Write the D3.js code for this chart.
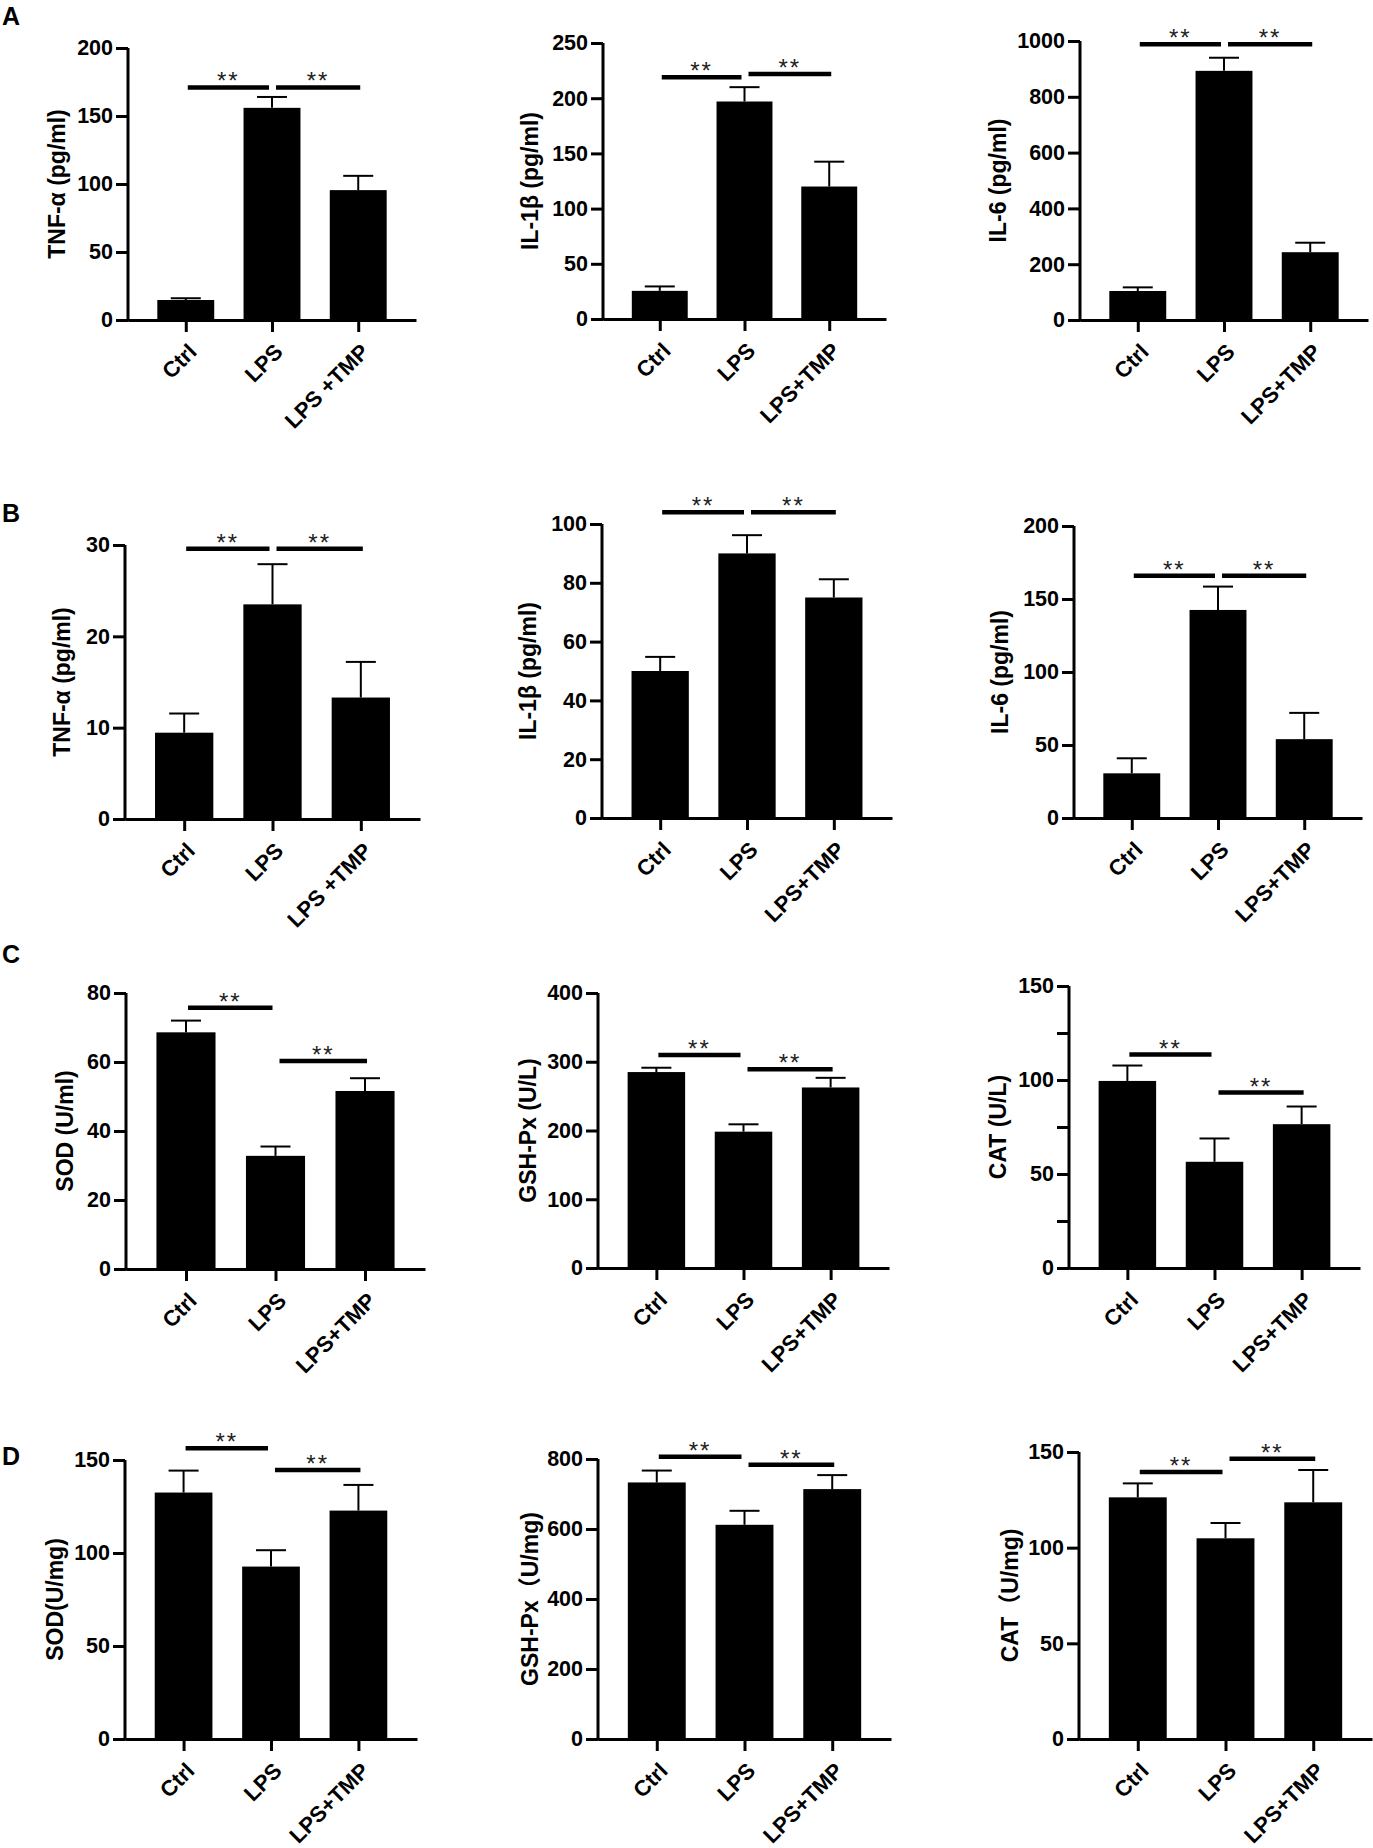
<!DOCTYPE html>
<html>
<head>
<meta charset="utf-8">
<script src="https://cdn.jsdelivr.net/npm/d3@7"></script>
<style>
  body { margin: 0; background: #fff; }
  svg { display: block; font-family: "Liberation Sans", Arial, "Noto Sans CJK SC", sans-serif; }
</style>
</head>
<body>
<svg id="chart" width="1373" height="1848"></svg>
<script>
(function () {
    'use strict';

    // groups on the x axis
    var groups = ["Ctrl", "LPS", "LPS+TMP"];
    var groupsSpaced = ["Ctrl", "LPS", "LPS +TMP"];

    // A: serum cytokines
    var tnfSerumMean = [14.7, 156, 95.5];
    var tnfSerumErr = [1.3, 8, 10.5];
    var il1bSerumMean = [25.5, 197, 120];
    var il1bSerumErr = [4, 13, 22.5];
    var il6SerumMean = [104, 893, 243];
    var il6SerumErr = [13, 47, 34];

    // B: tissue cytokines
    var tnfTissueMean = [9.45, 23.5, 13.3];
    var tnfTissueErr = [2.1, 4.4, 3.9];
    var il1bTissueMean = [50, 90, 75];
    var il1bTissueErr = [4.8, 6.2, 6.2];
    var il6TissueMean = [30.6, 142.5, 54];
    var il6TissueErr = [10.3, 16, 18];

    // C: serum antioxidant enzymes
    var sodSerumMean = [68.6, 32.8, 51.6];
    var sodSerumErr = [3.4, 2.7, 3.7];
    var gshSerumMean = [285, 198.3, 262.6];
    var gshSerumErr = [6.3, 10.7, 14];
    var catSerumMean = [99.5, 56.5, 76.5];
    var catSerumErr = [8.2, 12.4, 9.4];

    // D: tissue antioxidant enzymes
    var sodTissueMean = [132.5, 92.7, 122.8];
    var sodTissueErr = [11.8, 8.8, 13.8];
    var gshTissueMean = [733, 612, 714];
    var gshTissueErr = [34, 40, 40];
    var catTissueMean = [126.3, 104.9, 123.7];
    var catTissueErr = [7.3, 8, 16.9];

    // significance bars: [from, to, height]
    var sigA1 = [[0, 1, 171], [1, 2, 171]];
    var sigA2 = [[0, 1, 219], [1, 2, 222]];
    var sigA3 = [[0, 1, 988], [1, 2, 988]];
    var sigB1 = [[0, 1, 29.6], [1, 2, 29.6]];
    var sigB2 = [[0, 1, 104], [1, 2, 104]];
    var sigB3 = [[0, 1, 166], [1, 2, 166]];
    var sigC1 = [[0, 1, 75.7], [1, 2, 60.3]];
    var sigC2 = [[0, 1, 310], [1, 2, 289]];
    var sigC3 = [[0, 1, 113.5], [1, 2, 93.3]];
    var sigD1 = [[0, 1, 156.3], [1, 2, 144.6]];
    var sigD2 = [[0, 1, 806.7], [1, 2, 783.8]];
    var sigD3 = [[0, 1, 139.5], [1, 2, 146.5]];

    // y axes: [max, tick step, label step]
    var axisA1 = [200, 50, 50];
    var axisA2 = [250, 50, 50];
    var axisA3 = [1000, 200, 200];
    var axisB1 = [30, 10, 10];
    var axisB2 = [100, 20, 20];
    var axisB3 = [200, 50, 50];
    var axisC1 = [80, 20, 20];
    var axisC2 = [400, 100, 100];
    var axisC3 = [150, 25, 50];
    var axisD1 = [150, 50, 50];
    var axisD2 = [800, 200, 200];
    var axisD3 = [150, 50, 50];

    var panels = [
        { title: "TNF-α (pg/ml)", mean: tnfSerumMean, err: tnfSerumErr, sig: sigA1, axis: axisA1, labels: groupsSpaced,
          x0: 128, x1: 416, top: 48, bottom: 320, titleDx: 71 },
        { title: "IL-1β (pg/ml)", mean: il1bSerumMean, err: il1bSerumErr, sig: sigA2, axis: axisA2, labels: groups,
          x0: 603, x1: 886, top: 43, bottom: 319, titleDx: 73 },
        { title: "IL-6 (pg/ml)", mean: il6SerumMean, err: il6SerumErr, sig: sigA3, axis: axisA3, labels: groups,
          x0: 1080, x1: 1368, top: 41, bottom: 320, titleDx: 82 },
        { title: "TNF-α (pg/ml)", mean: tnfTissueMean, err: tnfTissueErr, sig: sigB1, axis: axisB1, labels: groupsSpaced,
          x0: 125, x1: 420, top: 545, bottom: 819, titleDx: 63 },
        { title: "IL-1β (pg/ml)", mean: il1bTissueMean, err: il1bTissueErr, sig: sigB2, axis: axisB2, labels: groups,
          x0: 602, x1: 892, top: 524, bottom: 818, titleDx: 74 },
        { title: "IL-6 (pg/ml)", mean: il6TissueMean, err: il6TissueErr, sig: sigB3, axis: axisB3, labels: groups,
          x0: 1074, x1: 1362, top: 526, bottom: 818, titleDx: 74 },
        { title: "SOD (U/ml)", mean: sodSerumMean, err: sodSerumErr, sig: sigC1, axis: axisC1, labels: groups,
          x0: 126, x1: 425, top: 993, bottom: 1269, titleDx: 61 },
        { title: "GSH-Px (U/L)", mean: gshSerumMean, err: gshSerumErr, sig: sigC2, axis: axisC2, labels: groups,
          x0: 598, x1: 889, top: 993, bottom: 1268, titleDx: 70 },
        { title: "CAT (U/L)", mean: catSerumMean, err: catSerumErr, sig: sigC3, axis: axisC3, labels: groups,
          x0: 1069, x1: 1360, top: 986, bottom: 1268, titleDx: 71 },
        { title: "SOD(U/mg)", mean: sodTissueMean, err: sodTissueErr, sig: sigD1, axis: axisD1, labels: groups,
          x0: 125, x1: 417, top: 1460, bottom: 1739, titleDx: 70 },
        { title: "GSH-Px（U/mg)", mean: gshTissueMean, err: gshTissueErr, sig: sigD2, axis: axisD2, labels: groups,
          x0: 598, x1: 891, top: 1459, bottom: 1739, titleDx: 68 },
        { title: "CAT（U/mg)", mean: catTissueMean, err: catTissueErr, sig: sigD3, axis: axisD3, labels: groups,
          x0: 1079, x1: 1372, top: 1452, bottom: 1739, titleDx: 69 }
    ];

    var letters = [["A", 25], ["B", 522], ["C", 963], ["D", 1465]];

    var svg = d3.select("#chart");

    svg.selectAll("text.letter")
        .data(letters)
        .enter()
        .append("text")
        .attr("class", "letter")
        .attr("x", 2)
        .attr("y", function (d) { return d[1]; })
        .style("font-size", "25px")
        .style("font-weight", "bold")
        .text(function (d) { return d[0]; });

    panels.forEach(function (p) {
        var g = svg.append("g");

        var x = d3.scalePoint().domain(groups).range([p.x0, p.x1]).padding(0.67);
        var y = d3.scaleLinear().domain([0, p.axis[0]]).range([p.bottom, p.top]);
        var step = x.step();
        var bw = step * 0.66;

        // bars
        g.selectAll("rect")
            .data(p.mean)
            .enter()
            .append("rect")
            .attr("x", function (d, i) { return x(groups[i]) - bw / 2; })
            .attr("y", function (d) { return y(d); })
            .attr("width", bw)
            .attr("height", function (d) { return y(0) - y(d); })
            .style("fill", "#000");

        // error bars (upper half only)
        var eb = g.selectAll("g.err")
            .data(p.mean)
            .enter()
            .append("g")
            .attr("class", "err");
        eb.append("line")
            .attr("x1", function (d, i) { return x(groups[i]); })
            .attr("x2", function (d, i) { return x(groups[i]); })
            .attr("y1", function (d) { return y(d); })
            .attr("y2", function (d, i) { return y(d + p.err[i]); })
            .style("stroke", "#000")
            .style("stroke-width", "2px");
        eb.append("line")
            .attr("x1", function (d, i) { return x(groups[i]) - 15; })
            .attr("x2", function (d, i) { return x(groups[i]) + 15; })
            .attr("y1", function (d, i) { return y(d + p.err[i]); })
            .attr("y2", function (d, i) { return y(d + p.err[i]); })
            .style("stroke", "#000")
            .style("stroke-width", "2px");

        // y axis
        var ticks = d3.range(0, p.axis[0] + p.axis[1] / 2, p.axis[1]);
        var yAxis = d3.axisLeft(y)
            .tickValues(ticks)
            .tickSize(12)
            .tickSizeOuter(0)
            .tickPadding(3)
            .tickFormat(function (d) { return d % p.axis[2] === 0 ? d : ""; });
        var ya = g.append("g")
            .attr("transform", "translate(" + p.x0 + ",0)")
            .call(yAxis);

        // x axis
        var xAxis = d3.axisBottom(x)
            .tickSize(12)
            .tickSizeOuter(0)
            .tickFormat("");
        var xa = g.append("g")
            .attr("transform", "translate(0," + p.bottom + ")")
            .call(xAxis);

        [ya, xa].forEach(function (a) {
            a.select(".domain").style("stroke", "#000").style("stroke-width", "3px");
            a.selectAll(".tick line").style("stroke", "#000").style("stroke-width", "3px");
        });
        ya.select(".domain").attr("d", "M0," + (p.bottom + 1.5) + "V" + p.top);
        ya.selectAll(".tick text")
            .style("font-size", "21.5px")
            .style("font-weight", "bold")
            .style("font-family", "'Liberation Sans', Arial, sans-serif")
            .style("fill", "#000");

        // rotated group labels
        g.selectAll("text.grp")
            .data(p.labels)
            .enter()
            .append("text")
            .attr("class", "grp")
            .attr("transform", function (d, i) {
                return "translate(" + (x(groups[i]) + 1) + "," + (p.bottom + 22) + ") rotate(-45)";
            })
            .attr("dy", "0.72em")
            .attr("text-anchor", "end")
            .style("font-size", "22px")
            .style("font-weight", "bold")
            .text(function (d) { return d; });

        // y title
        g.append("text")
            .attr("transform", "translate(" + (p.x0 - p.titleDx) + "," + ((p.top + p.bottom) / 2) + ") rotate(-90)")
            .attr("text-anchor", "middle")
            .attr("dy", "0.35em")
            .style("font-size", "23px")
            .style("font-weight", "bold")
            .text(p.title);

        // significance bars
        var sig = g.selectAll("g.sig")
            .data(p.sig)
            .enter()
            .append("g")
            .attr("class", "sig");
        function sx1(d) { return x(groups[d[0]]) + (d[0] === 0 ? 2 : 4); }
        function sx2(d) { return x(groups[d[1]]) - (d[1] === 1 ? 3 : -2); }
        sig.append("line")
            .attr("x1", sx1)
            .attr("x2", sx2)
            .attr("y1", function (d) { return y(d[2]); })
            .attr("y2", function (d) { return y(d[2]); })
            .style("stroke", "#000")
            .style("stroke-width", "4.5px");
        sig.append("text")
            .attr("x", function (d) { return (sx1(d) + sx2(d)) / 2; })
            .attr("y", function (d) { return y(d[2]) + 2; })
            .attr("text-anchor", "middle")
            .style("font-size", "24px")
            .style("letter-spacing", "2px")
            .style("fill", "#222")
            .text("**");
    });
}());
</script>
</body>
</html>
